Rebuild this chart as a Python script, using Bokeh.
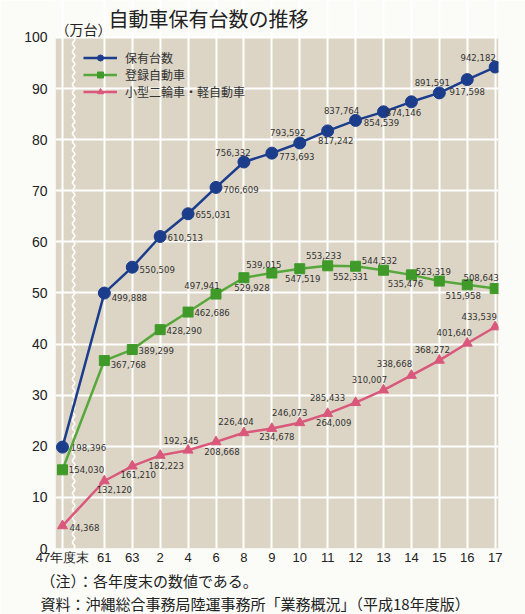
from bokeh.plotting import figure
from bokeh.models import (Range1d, FixedTicker, ColumnDataSource, Legend, LegendItem,
                          Title, Label, BoxAnnotation)
from bokeh.core.properties import value
from bokeh.embed import file_html
from bokeh.resources import INLINE
import numpy as np

# ---------------- data ----------------
years = ["47年度末", "61", "63", "2", "4", "6", "8", "9", "10", "11", "12", "13", "14", "15", "16", "17"]
total = [198396, 499888, 550509, 610513, 655031, 706609, 756332, 773693,
         793592, 817242, 837764, 854539, 874146, 891591, 917598, 942182]
registered = [154030, 367768, 389299, 428290, 462686, 497941, 529928, 539015,
              547519, 553233, 552331, 544532, 535476, 523319, 515958, 508643]
small = [44368, 132120, 161210, 182223, 192345, 208668, 226404, 234678,
         246073, 264009, 285433, 310007, 338668, 368272, 401640, 433539]
series_names = ["保有台数", "登録自動車", "小型二輪車・軽自動車"]
title_text = "自動車保有台数の推移"
unit_text = "（万台）"
note1 = "（注）：各年度末の数値である。"
note2 = "資料：沖縄総合事務局陸運事務所「業務概況」（平成18年度版）"
y_ticks = list(range(0, 101, 10))

# ---------------- layout / style ----------------
# x positions: broken axis between first and second category
xpos = [0] + [15 + 10 * i for i in range(len(years) - 1)]
total_off = [(26, 0), (25, 4), (25, 2), (25, 1), (25, 1), (25, 2), (-11, -10), (25, 3),
             (-12, -10), (8, 10), (-14, -10), (-2, 11), (-8, 11), (-7, -10), (0, 12), (-17, -10)]
reg_off = [(24, 0), (24, 4), (24, 1), (24, 1), (24, 0), (-14, -9), (8, 10), (-8, -9),
           (3, 10), (-4, -10), (-5, 10), (-4, -10), (-6, 9), (-6, -10), (-4, 11), (-14, -11)]
small_off = [(22, 2), (10, 9), (6, 8), (6, 10), (-7, -10), (6, 10), (-8, -11), (5, 8),
             (-10, -10), (6, 9), (-28, -5), (-14, -11), (-17, -12), (-7, -11), (-13, -11), (-16, -10)]

BLUE = "#1c3d8c"
GREEN = "#57a83c"
GREEN_M = "#3f9a2a"
PINK = "#d9587c"
BG = "#dcd5c5"
PAGE = "#fbfbf8"
JP = "Noto Sans CJK JP"
NUMF = value("DejaVu Sans Condensed")

# frame reaches the top of the canvas; the beige plot area covers 0..100 only
p = figure(width=525, height=614, output_backend="svg", toolbar_location=None,
           x_range=Range1d(-2.5, 156.2), y_range=Range1d(0, 107.24),
           min_border_left=55, min_border_right=27, min_border_top=0, min_border_bottom=66,
           background_fill_color=PAGE, border_fill_color=PAGE, outline_line_color=None)

p.add_layout(BoxAnnotation(bottom=0, top=100, fill_color=BG, fill_alpha=1,
                           line_color=None, level="image"))

p.xaxis.ticker = FixedTicker(ticks=xpos)
p.xaxis.major_label_overrides = {x: y for x, y in zip(xpos, years)}
p.yaxis.ticker = FixedTicker(ticks=y_ticks)
for ax in (p.xaxis, p.yaxis):
    ax.axis_line_color = None
    ax.major_tick_line_color = None
    ax.minor_tick_line_color = None
    ax.major_tick_out = 0
    ax.major_tick_in = 0
    ax.minor_tick_out = 0
    ax.major_label_text_font = "Liberation Sans"
    ax.major_label_text_color = "#222222"
p.yaxis.major_label_text_font_size = "14px"
p.yaxis.major_label_standoff = 8
p.xaxis.major_label_text_font_size = "13px"
p.xaxis.major_label_standoff = 1

p.xgrid.grid_line_color = "white"
p.xgrid.grid_line_width = 2
p.xgrid.bounds = (0, 100)
p.ygrid.grid_line_color = "white"
p.ygrid.grid_line_width = 2

# broken-axis wavy mark
wy = np.linspace(0, 100, 400)
p.line(4 + 0.45 * np.sin(wy * 2 * np.pi / 1.6), wy, line_color="white", line_width=1.6)

def add_series(vals, offs, color, mcolor, marker, size, name):
    src = ColumnDataSource(dict(x=xpos, y=[v / 10000 for v in vals],
                                lab=[f"{v:,}" for v in vals],
                                dx=[o[0] for o in offs], dy=[o[1] for o in offs]))
    lr = p.line("x", "y", source=src, line_color=color, line_width=2.5)
    sr = p.scatter("x", "y", source=src, marker=marker, size=size,
                   fill_color=mcolor, line_color=mcolor)
    p.text("x", "y", text="lab", source=src, x_offset="dx", y_offset="dy",
           text_align="center", text_baseline="middle", text_font=NUMF,
           text_font_size="9.5px", text_color="#333333")
    return LegendItem(label=name, renderers=[lr, sr])

items = [
    add_series(total, total_off, BLUE, BLUE, "circle", 12, series_names[0]),
    add_series(registered, reg_off, GREEN, GREEN_M, "square", 10, series_names[1]),
    add_series(small, small_off, PINK, PINK, "triangle", 10, series_names[2]),
]

legend = Legend(items=items, location=(28, 448), padding=0, margin=0, spacing=0,
                glyph_width=34, glyph_height=15, label_height=15, label_standoff=8,
                label_text_font=JP, label_text_font_size="12px", label_text_color="#333333",
                label_text_line_height=1.0,
                background_fill_alpha=0, border_line_alpha=0)
p.add_layout(legend)

# title and unit (screen px relative to the frame's bottom-left corner)
p.add_layout(Label(x=53, y=530, x_units="screen", y_units="screen", text=title_text,
                   text_font=JP, text_font_size="20px", text_color="#222222",
                   text_baseline="middle"))
p.add_layout(Label(x=0, y=520, x_units="screen", y_units="screen", text=unit_text,
                   text_font=JP, text_font_size="14px", text_color="#222222",
                   text_baseline="middle"))

# source notes below the axis
p.add_layout(Title(text=note1, align="left", offset=-15, standoff=0,
                   text_font=JP, text_font_size="15px", text_font_style="normal",
                   text_color="#222222"), "below")
p.add_layout(Title(text=note2, align="left", offset=-15, standoff=0,
                   text_font=JP, text_font_size="15px", text_font_style="normal",
                   text_color="#222222"), "below")

open("out.html", "w").write(file_html(p, INLINE))
